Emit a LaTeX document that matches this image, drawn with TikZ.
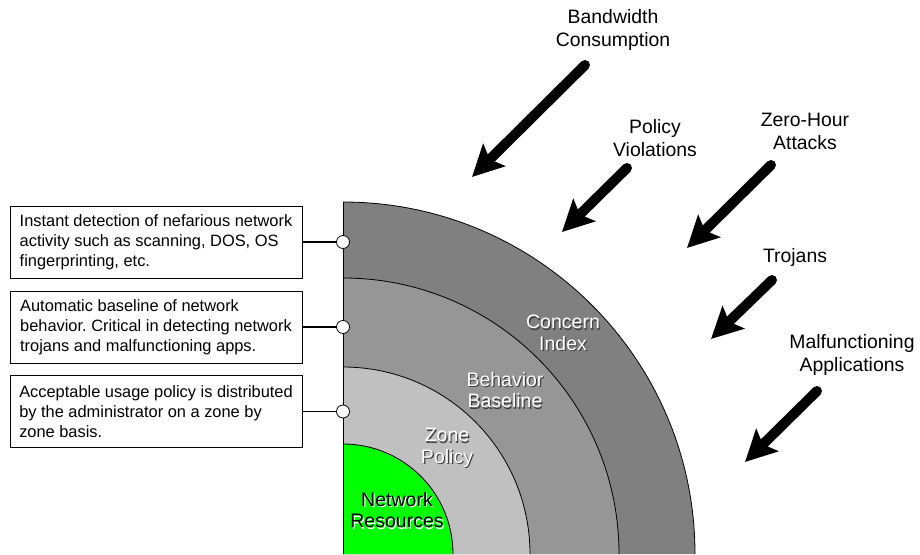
\documentclass[tikz,border=0pt]{standalone}
\usepackage{fontspec}
\setmainfont{Liberation Sans}
\usetikzlibrary{arrows.meta,calc}
\frenchspacing
\definecolor{ringD}{HTML}{808080}
\definecolor{ringM}{HTML}{969696}
\definecolor{ringL}{HTML}{C0C0C0}
\definecolor{core}{HTML}{00FF00}
\definecolor{shade}{HTML}{404040}

\tikzset{
  infobox/.style={draw=black, line width=0.8pt, fill=white, minimum width=292pt,
    minimum height=72pt, align=left, inner sep=0pt,
    font=\fontsize{16.4}{20}\selectfont},
  pin/.style={circle, draw=black, line width=0.8pt, fill=white, minimum size=13pt, inner sep=0pt},
  link/.style={line width=1.2pt, black},
  ringtext/.style={align=center, text=white, font=\fontsize{19.5}{21.7}\selectfont},
  ringshadow/.style={align=center, text=shade, font=\fontsize{19.5}{21.7}\selectfont},
  threat/.style={align=center, font=\fontsize{19.4}{23}\selectfont},
  bigarrow/.style={line width=10pt, line cap=round,
    -{Stealth[length=31pt,width=31pt,inset=6pt]}},
  ringedge/.style={line width=0.8pt, black}
}

\begin{document}
\begin{tikzpicture}[x=1pt,y=-1pt]
\useasboundingbox (0,0) rectangle (920,554);
\fill[white] (0,0) rectangle (920,554);

% concentric quarter rings, outermost first
\coordinate (O) at (343,554);
\foreach \r/\c in {352/ringD, 276/ringM, 187/ringL, 110/core}{
  \fill[\c] (O) -- ++(\r,0) arc[start angle=0, end angle=-90, radius=\r] -- cycle;
  \draw[ringedge] ($(O)+(\r,0)$) arc[start angle=0, end angle=-90, radius=\r];
}
\draw[ringedge] (O) -- ++(0,-352);

% ring captions (white with dark drop shadow)
\node[ringshadow] at (564.2,334.2) {Concern\\Index};
\node[ringtext] (ci) at (563,333) {Concern\\Index};
\node[ringshadow] at (506.2,391.2) {Behavior\\Baseline};
\node[ringtext] (bb) at (505,390) {Behavior\\Baseline};
\node[ringshadow] at (448.2,449.2) {Zone\\Policy};
\node[ringtext] (zp) at (447,448) {Zone\\Policy};
\node[align=center, text=white, font=\fontsize{19.5}{21.7}\selectfont] at (398.2,511.2) {Network\\Resources};
\node[align=center, text=black, font=\fontsize{19.5}{21.7}\selectfont] (nr) at (397,510) {Network\\Resources};

% description boxes and their pins on the ring edge
\node[infobox] (b1) at (156,242) {Instant detection of nefarious network\\activity such as scanning, DOS, OS\\fingerprinting, etc.};
\node[infobox] (b2) at (156,327) {Automatic baseline of network\\behavior. Critical in detecting network\\trojans and malfunctioning apps.};
\node[infobox] (b3) at (156,411.5) {Acceptable usage policy is distributed\\by the administrator on a zone by\\zone basis.};

\node[pin] (p1) at (343,242) {};
\node[pin] (p2) at (343,327) {};
\node[pin] (p3) at (343,411.5) {};
\draw[link] (b1.east) -- (p1.west);
\draw[link] (b2.east) -- (p2.west);
\draw[link] (b3.east) -- (p3.west);

% incoming threats
\node[threat] (t1) at (613,30) {Bandwidth\\Consumption};
\node[threat] (t2) at (655,138) {Policy\\Violations};
\node[threat] (t3) at (805,131) {Zero-Hour\\Attacks};
\node[threat] (t4) at (795,257) {Trojans};
\node[threat] (t5) at (852,355) {Malfunctioning\\Applications};

\coordinate (a1s) at (585,65);   \coordinate (a1e) at (472,177);
\coordinate (a2s) at (627,168);  \coordinate (a2e) at (562,232);
\coordinate (a3s) at (771,165);  \coordinate (a3e) at (687,248);
\coordinate (a4s) at (772,280);  \coordinate (a4e) at (711,339);
\coordinate (a5s) at (817,391);  \coordinate (a5e) at (745,462);
\draw[bigarrow] (a1s) -- (a1e);
\draw[bigarrow] (a2s) -- (a2e);
\draw[bigarrow] (a3s) -- (a3e);
\draw[bigarrow] (a4s) -- (a4e);
\draw[bigarrow] (a5s) -- (a5e);
\end{tikzpicture}
\end{document}
